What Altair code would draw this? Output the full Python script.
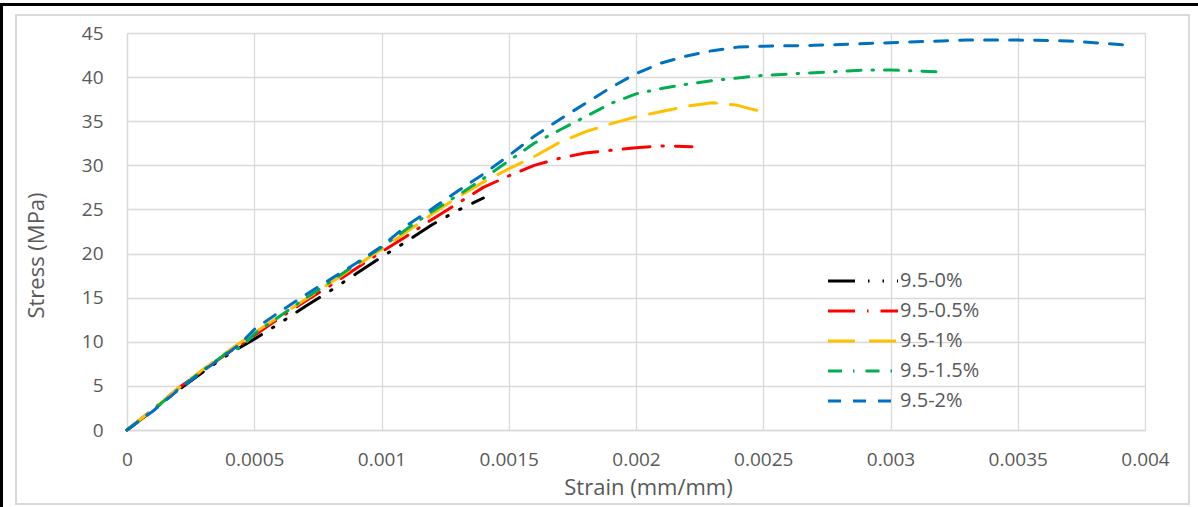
import altair as alt
import pandas as pd

series_names = ["9.5-0%", "9.5-0.5%", "9.5-1%", "9.5-1.5%", "9.5-2%"]
series_colors = ["#000000", "#ff0000", "#ffc000", "#00b050", "#0070c0"]
series_dashes = [[27, 13, 1.5, 13, 1.5, 13], [27, 12, 1.5, 12], [27, 14], [14, 11, 1.5, 11], [13, 12]]

strain_0 = [0, 0.0001, 0.0002, 0.0003, 0.0004, 0.0005, 0.0006, 0.0007, 0.0008, 0.0009, 0.001, 0.0011, 0.0012, 0.0013, 0.0014]
stress_0 = [0, 2.2, 4.5, 6.6, 8.6, 10.3, 12.1, 14.0, 15.8, 17.7, 19.6, 21.4, 23.3, 24.9, 26.3]

strain_05 = [0, 0.0001, 0.0002, 0.0003, 0.0004, 0.0005, 0.0006, 0.0007, 0.0008, 0.0009, 0.001, 0.0011, 0.0012, 0.0013, 0.0014,
             0.0015, 0.0016, 0.0017, 0.0018, 0.0019, 0.002, 0.0021, 0.00222]
stress_05 = [0, 2.3, 4.7, 6.8, 8.8, 10.7, 12.7, 14.6, 16.4, 18.3, 20.2, 22.0, 23.9, 25.7, 27.5,
             28.8, 30.0, 30.8, 31.4, 31.7, 32.0, 32.2, 32.1]

strain_1 = [0, 0.0001, 0.0002, 0.0003, 0.0004, 0.0005, 0.0006, 0.0007, 0.0008, 0.0009, 0.001, 0.0011, 0.0012, 0.0013, 0.0014,
            0.0015, 0.0016, 0.0017, 0.0018, 0.0019, 0.002, 0.0021, 0.0022, 0.0023, 0.0024, 0.00245, 0.0025]
stress_1 = [0, 2.3, 4.7, 6.9, 9.0, 11.0, 12.9, 14.8, 16.7, 18.6, 20.5, 22.5, 24.5, 26.4, 28.1,
            29.6, 31.0, 32.6, 33.8, 34.7, 35.5, 36.1, 36.7, 37.1, 36.8, 36.4, 36.1]

strain_15 = [0, 0.0001, 0.0002, 0.0003, 0.0004, 0.00045, 0.0005, 0.0006, 0.0007, 0.0008, 0.0009, 0.001, 0.0011, 0.0012, 0.0013,
             0.0014, 0.0015, 0.0016, 0.0017, 0.0018, 0.0019, 0.002, 0.0021, 0.0022, 0.0023, 0.0024, 0.0025, 0.0027, 0.0029,
             0.003, 0.0031, 0.0032]
stress_15 = [0, 2.2, 4.6, 6.8, 8.9, 9.4, 10.9, 12.9, 14.9, 16.8, 18.8, 20.7, 22.8, 24.8, 26.6,
             28.5, 30.5, 32.5, 34.0, 35.5, 37.0, 38.1, 38.7, 39.2, 39.6, 39.9, 40.2, 40.5, 40.8,
             40.8, 40.7, 40.6]

strain_2 = [0, 0.0001, 0.0002, 0.0003, 0.0004, 0.00045, 0.0005, 0.0006, 0.0007, 0.0008, 0.0009, 0.001, 0.0011, 0.0012, 0.0013,
            0.0014, 0.0015, 0.0016, 0.0017, 0.0018, 0.0019, 0.002, 0.0021, 0.0022, 0.0023, 0.0024, 0.0025, 0.0027, 0.003,
            0.0032, 0.0033, 0.0035, 0.0037, 0.0038, 0.00394]
stress_2 = [0, 2.1, 4.5, 6.7, 8.8, 9.9, 11.4, 13.4, 15.3, 17.1, 18.9, 20.8, 23.2, 25.1, 27.1,
            29.0, 31.1, 33.3, 35.2, 37.0, 38.8, 40.4, 41.6, 42.4, 43.0, 43.4, 43.5, 43.6, 43.9,
            44.1, 44.2, 44.2, 44.1, 43.9, 43.6]

x_ticks = [0, 0.0005, 0.001, 0.0015, 0.002, 0.0025, 0.003, 0.0035, 0.004]
y_ticks = [0, 5, 10, 15, 20, 25, 30, 35, 40, 45]

all_strain = [strain_0, strain_05, strain_1, strain_15, strain_2]
all_stress = [stress_0, stress_05, stress_1, stress_15, stress_2]

rows = []
for name, xs, ys in zip(series_names, all_strain, all_stress):
    for i, (xv, yv) in enumerate(zip(xs, ys)):
        rows.append({"series": name, "strain": xv, "stress": yv, "idx": i})
df = pd.DataFrame(rows)

FONT = "Open Sans"
GRID = "#d9d9d9"
TXT = "#595959"

lines = alt.Chart(df).mark_line(strokeWidth=3, strokeCap="round", strokeJoin="round").encode(
    x=alt.X("strain:Q",
            scale=alt.Scale(domain=[0, 0.004], nice=False, zero=False),
            axis=alt.Axis(values=x_ticks, labelExpr="datum.value + ''", title="Strain (mm/mm)",
                          grid=True, gridColor=GRID, gridWidth=1.3, ticks=False,
                          domainColor=GRID, domainWidth=1.3,
                          labelFont=FONT, labelFontSize=19, labelColor=TXT, labelPadding=20,
                          labelFlush=False,
                          titleFont=FONT, titleFontSize=22, titleColor=TXT, titleFontWeight="normal",
                          titleX=521, titleY=64, titleBaseline="alphabetic")),
    y=alt.Y("stress:Q",
            scale=alt.Scale(domain=[0, 45], nice=False),
            axis=alt.Axis(values=y_ticks, title="Stress (MPa)",
                          grid=True, gridColor=GRID, gridWidth=1.3, ticks=False,
                          domainColor=GRID, domainWidth=1.3,
                          labelFont=FONT, labelFontSize=19, labelColor=TXT, labelPadding=24,
                          labelFlush=False,
                          titleFont=FONT, titleFontSize=22, titleColor=TXT, titleFontWeight="normal",
                          titleX=-84, titleY=222, titleBaseline="alphabetic", titleAngle=270)),
    color=alt.Color("series:N",
                    scale=alt.Scale(domain=series_names, range=series_colors),
                    legend=alt.Legend(title=None, orient="none", legendX=698, legendY=238,
                                      symbolType="M-1,0H9", symbolSize=196, symbolStrokeWidth=3,
                                      labelFont=FONT, labelFontSize=20, labelColor=TXT,
                                      labelOffset=55, rowPadding=10)),
    strokeDash=alt.StrokeDash("series:N",
                              scale=alt.Scale(domain=series_names, range=series_dashes),
                              legend=None),
    detail="series:N",
    order="idx:Q",
)

frame = alt.Chart(pd.DataFrame({"k": [0]})).mark_rect(fill=None, stroke=GRID, strokeWidth=2).encode(
    x=alt.value(-111), x2=alt.value(1062), y=alt.value(-18), y2=alt.value(471)
)
top_black = alt.Chart(pd.DataFrame({"k": [0]})).mark_rule(color="#000000", strokeWidth=3).encode(
    x=alt.value(-127), x2=alt.value(1071), y=alt.value(-28.5)
)
left_black = alt.Chart(pd.DataFrame({"k": [0]})).mark_rule(color="#000000", strokeWidth=3).encode(
    x=alt.value(-125.5), y=alt.value(-30), y2=alt.value(474)
)

chart = alt.layer(frame, top_black, left_black, lines).properties(
    width=1018, height=397,
    padding={"left": 127, "top": 33, "right": 53, "bottom": 77},
    autosize=alt.AutoSizeParams(type="none"),
    background="white",
).configure_view(stroke=None, strokeWidth=0)

chart.save("out.html", embed_options={"renderer": "svg", "actions": False})
